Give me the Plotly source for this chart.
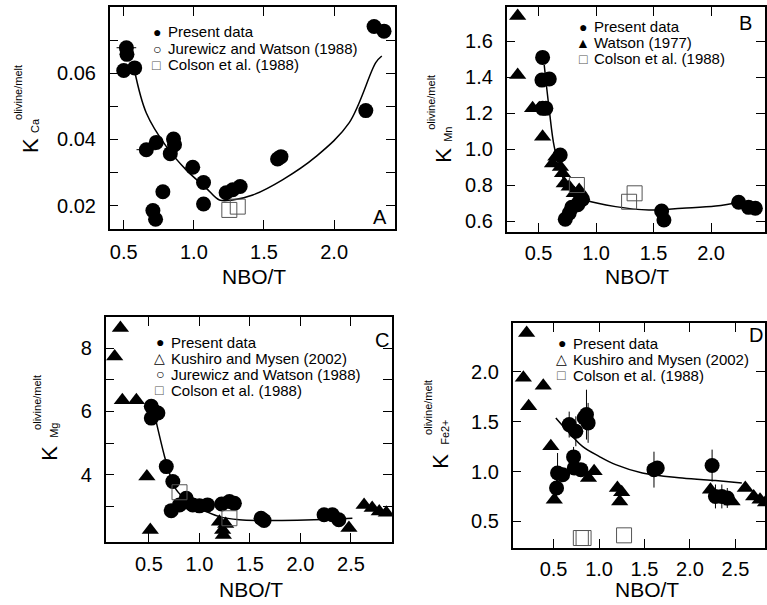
import plotly.graph_objects as go

W, H = 767, 605
FONT = "Liberation Sans, Arial, Helvetica, sans-serif"

# ---------------- Panel A : K_Ca ----------------
a_present_x = [0.519, 0.523, 0.50, 0.578, 0.661, 0.732, 0.779, 0.708, 0.727, 0.832, 0.855, 0.862,
               0.992, 1.069, 1.069, 1.23, 1.277, 1.33, 1.597, 1.621, 2.226, 2.285, 2.356]
a_present_y = [0.0677, 0.0657, 0.0608, 0.0616, 0.0369, 0.0391, 0.0242, 0.0185, 0.0159, 0.0357, 0.0401, 0.0384,
               0.0316, 0.0270, 0.0205, 0.0239, 0.0248, 0.0258, 0.0341, 0.0348, 0.0487, 0.0741, 0.0727]
a_present_ex = [0.07, 0, 0, 0, 0.07, 0, 0, 0, 0, 0, 0, 0,
                0, 0, 0, 0, 0, 0, 0, 0, 0, 0, 0]
a_present_ey = [0.002, 0, 0, 0, 0, 0, 0, 0, 0, 0, 0.002, 0,
                0, 0, 0, 0, 0, 0, 0, 0, 0, 0.002, 0]
a_colson_x = [1.253, 1.313]
a_colson_y = [0.0187, 0.0197]
a_fit_x = [0.578, 0.661, 0.803, 0.945, 1.088, 1.182, 1.277, 1.42, 1.632, 1.87, 2.107, 2.297, 2.34]
a_fit_y = [0.0606, 0.0480, 0.0379, 0.0308, 0.0253, 0.0217, 0.0217, 0.0232, 0.0278, 0.0348, 0.0450, 0.0632, 0.0652]

# ---------------- Panel B : K_Mn ----------------
b_present_x = [0.535, 0.529, 0.593, 0.535, 0.563, 0.688, 0.732, 0.766, 0.789, 0.853, 0.882, 0.84,
               1.57, 1.59, 2.24, 2.326, 2.385]
b_present_y = [1.509, 1.383, 1.389, 1.226, 1.226, 0.967, 0.610, 0.643, 0.676, 0.707, 0.721, 0.690,
               0.656, 0.606, 0.704, 0.676, 0.671]
b_watson_x = [0.318, 0.318, 0.448, 0.506, 0.535, 0.621, 0.65, 0.69, 0.708, 0.723, 0.766, 0.81, 0.853]
b_watson_y = [1.739, 1.411, 1.226, 1.226, 1.068, 0.920, 0.957, 0.900, 0.865, 0.809, 0.790, 0.754, 0.772]
b_colson_x = [0.833, 1.287, 1.335]
b_colson_y = [0.800, 0.707, 0.754]
b_fit_x = [0.549, 0.593, 0.636, 0.708, 0.795, 0.91, 1.17, 1.46, 1.749, 2.04, 2.27]
b_fit_y = [1.467, 1.217, 1.013, 0.846, 0.754, 0.717, 0.680, 0.661, 0.671, 0.683, 0.707]

# ---------------- Panel C : K_Mg ----------------
c_present_x = [0.524, 0.556, 0.524, 0.589, 0.672, 0.737, 0.721, 0.803, 0.869, 0.88, 0.934, 1.0,
               1.08, 1.22, 1.297, 1.346, 1.61, 1.64, 2.234, 2.316, 2.38]
c_present_y = [6.16, 6.00, 5.79, 5.95, 4.26, 3.79, 2.87, 3.05, 3.26, 3.15, 3.05, 3.02,
               3.05, 3.08, 3.16, 3.10, 2.63, 2.56, 2.74, 2.74, 2.58]
c_kushiro_x = [0.218, 0.161, 0.237, 0.376, 0.48, 0.514, 1.198, 1.23, 1.237, 1.26, 2.48, 2.63, 2.71, 2.78, 2.85]
c_kushiro_y = [8.63, 7.73, 6.35, 6.35, 3.95, 2.26, 2.52, 2.26, 2.10, 2.45, 2.32, 3.05, 2.95, 2.84, 2.80]
c_colson_x = [0.803, 1.297]
c_colson_y = [3.45, 2.63]
c_fit_x = [0.556, 0.655, 0.704, 0.77, 0.869, 1.0, 1.198, 1.395, 1.659, 2.316, 2.514]
c_fit_y = [5.90, 4.58, 4.05, 3.53, 3.21, 2.95, 2.68, 2.58, 2.56, 2.60, 2.63]

# ---------------- Panel D : K_Fe2+ ----------------
d_present_x = [0.672, 0.745, 0.72, 0.728, 0.80, 0.544, 0.60, 0.533, 0.862, 0.837, 0.88,
               1.604, 1.64, 2.243, 2.28, 2.35, 2.41]
d_present_y = [1.471, 1.404, 1.147, 1.036, 1.019, 0.986, 0.969, 0.835, 1.571, 1.538, 1.488,
               1.019, 1.036, 1.060, 0.750, 0.750, 0.735]
d_present_ey = [0.13, 0.15, 0.10, 0, 0, 0.20, 0, 0.10, 0.25, 0, 0.20,
                0.18, 0, 0.16, 0.12, 0.12, 0.10]
d_kushiro_x = [0.204, 0.168, 0.226, 0.387, 0.47, 0.508, 0.884, 0.946, 1.202, 1.249, 1.227,
               2.225, 2.463, 2.608, 2.70, 2.77, 2.83]
d_kushiro_y = [2.39, 1.94, 1.655, 1.86, 1.253, 0.718, 0.936, 1.002, 0.835, 0.791, 0.700,
               0.818, 0.700, 0.835, 0.750, 0.718, 0.690]
d_colson_x = [0.80, 0.83, 1.275]
d_colson_y = [0.333, 0.333, 0.360]
d_fit_x = [0.525, 0.672, 0.818, 1.0, 1.183, 1.476, 1.914, 2.28, 2.57]
d_fit_y = [1.538, 1.388, 1.253, 1.153, 1.069, 0.986, 0.936, 0.909, 0.886]

# ---------------- Text ----------------
x_title = "NBO/T"
panel_letters = ["A", "B", "C", "D"]
sub_labels = ["Ca", "Mn", "Mg", "Fe2+"]
sup_label = "olivine/melt"
legend_A = [("●", "Present data", "black"), ("○", "Jurewicz and Watson (1988)", "black"),
            ("□", "Colson et al. (1988)", "#555555")]
legend_B = [("●", "Present data", "black"), ("▲", "Watson (1977)", "black"),
            ("□", "Colson et al. (1988)", "#555555")]
legend_C = [("●", "Present data", "black"), ("△", "Kushiro and Mysen (2002)", "black"),
            ("○", "Jurewicz and Watson (1988)", "black"), ("□", "Colson et al. (1988)", "#555555")]
legend_D = [("●", "Present data", "black"), ("△", "Kushiro and Mysen (2002)", "black"),
            ("□", "Colson et al. (1988)", "#555555")]

# ---------------- Layout geometry (pixels) ----------------
def fx(p):
    return p / W

def fy(p):
    return 1 - p / H

panels = {
    "A": dict(px=(110, 396), py=(7, 229), xr=[0.40, 2.434], yr=[0.01294, 0.0800],
              yt=[0.02, 0.04, 0.06], ytt=["0.02", "0.04", "0.06"], ym=[0.03, 0.05, 0.07],
              xt=[0.5, 1.0, 1.5, 2.0], xtt=["0.5", "1.0", "1.5", "2.0"], so=4),
    "B": dict(px=(508, 767), py=(7, 232), xr=[0.2225, 2.469], yr=[0.539, 1.789],
              yt=[0.6, 0.8, 1.0, 1.2, 1.4, 1.6], ytt=["0.6", "0.8", "1.0", "1.2", "1.4", "1.6"], ym=[],
              xt=[0.5, 1.0, 1.5, 2.0], xtt=["0.5", "1.0", "1.5", "2.0"], so=2),
    "C": dict(px=(106, 393), py=(317, 542), xr=[0.0726, 2.906], yr=[1.88, 8.98],
              yt=[4, 6, 8], ytt=["4", "6", "8"], ym=[3, 5, 7],
              xt=[0.5, 1.0, 1.5, 2.0, 2.5], xtt=["0.5", "1.0", "1.5", "2.0", "2.5"], so=3),
    "D": dict(px=(514, 767), py=(323, 548), xr=[0.0504, 2.8246], yr=[0.233, 2.49],
              yt=[0.5, 1.0, 1.5, 2.0], ytt=["0.5", "1.0", "1.5", "2.0"], ym=[],
              xt=[0.5, 1.0, 1.5, 2.0, 2.5], xtt=["0.5", "1.0", "1.5", "2.0", "2.5"], so=2),
}
axis_ids = {"A": ("x", "y", "xaxis", "yaxis"), "B": ("x2", "y2", "xaxis2", "yaxis2"),
            "C": ("x3", "y3", "xaxis3", "yaxis3"), "D": ("x4", "y4", "xaxis4", "yaxis4")}

fig = go.Figure()

line_style = dict(color="black", width=1.5)
circ = dict(symbol="circle", size=15, color="black", line=dict(width=0))
tri = dict(symbol="triangle-up", size=15, color="black", line=dict(width=0))
sq = dict(symbol="square-open", size=15, color="#555555", line=dict(width=1, color="#555555"))


def add_fit(name, xs, ys):
    xa, ya = axis_ids[name][:2]
    fig.add_trace(go.Scatter(x=xs, y=ys, mode="lines", line=dict(shape="spline", smoothing=1.0, **line_style),
                             xaxis=xa, yaxis=ya, hoverinfo="skip"))


def add_pts(name, xs, ys, marker, ex=None, ey=None):
    xa, ya = axis_ids[name][:2]
    kw = {}
    if ex is not None:
        kw["error_x"] = dict(type="data", array=ex, color="black", thickness=1, width=0)
    if ey is not None:
        kw["error_y"] = dict(type="data", array=ey, color="black", thickness=1, width=0)
    fig.add_trace(go.Scatter(x=xs, y=ys, mode="markers", marker=marker, xaxis=xa, yaxis=ya, **kw))


add_fit("A", a_fit_x, a_fit_y)
add_pts("A", a_present_x, a_present_y, circ, ex=a_present_ex, ey=a_present_ey)
add_pts("A", a_colson_x, a_colson_y, sq)

add_fit("B", b_fit_x, b_fit_y)
add_pts("B", b_watson_x, b_watson_y, tri)
add_pts("B", b_present_x, b_present_y, circ)
add_pts("B", b_colson_x, b_colson_y, sq)

add_fit("C", c_fit_x, c_fit_y)
add_pts("C", c_kushiro_x, c_kushiro_y, tri)
add_pts("C", c_present_x, c_present_y, circ)
add_pts("C", c_colson_x, c_colson_y, sq)

add_fit("D", d_fit_x, d_fit_y)
add_pts("D", d_kushiro_x, d_kushiro_y, tri)
add_pts("D", d_present_x, d_present_y, circ, ey=d_present_ey)
add_pts("D", d_colson_x, d_colson_y, sq)

layout = dict(width=W, height=H, margin=dict(l=0, r=0, t=0, b=0),
              plot_bgcolor="white", paper_bgcolor="white", showlegend=False,
              font=dict(family=FONT, color="black"))

common = dict(showline=True, linecolor="black", linewidth=1.5, mirror="ticks", ticks="inside",
              ticklen=9, tickwidth=1.3, tickcolor="black", showgrid=False, zeroline=False,
              tickfont=dict(family=FONT, size=20, color="black"), tickmode="array")

for name, p in panels.items():
    xa, ya, xk, yk = axis_ids[name]
    x0, x1 = p["px"]
    yt, yb = p["py"]
    layout[xk] = dict(common, domain=[fx(x0), min(1.0, fx(x1))], range=p["xr"], anchor=ya,
                      tickvals=p["xt"], ticktext=p["xtt"], ticklabelstandoff=p["so"])
    ydict = dict(common, domain=[fy(yb), fy(yt)], range=p["yr"], anchor=xa,
                 tickvals=p["yt"], ticktext=p["ytt"], ticklabelstandoff=8)
    if p["ym"]:
        ydict["minor"] = dict(tickmode="array", tickvals=p["ym"], ticks="inside", ticklen=9,
                              tickwidth=1.3, tickcolor="black", showgrid=False)
    layout[yk] = ydict

annotations = []


def ann(text, x, y, size, angle=0, xanchor="center", yanchor="middle", color="black"):
    annotations.append(dict(text=text, x=fx(x), y=fy(y), xref="paper", yref="paper", showarrow=False,
                            font=dict(family=FONT, size=size, color=color), textangle=angle,
                            xanchor=xanchor, yanchor=yanchor))


# x-axis titles
xtitle_pos = {"A": (255, 276), "B": (639, 276), "C": (252, 589), "D": (649, 589)}
for name in ["A", "B", "C", "D"]:
    tx, ty = xtitle_pos[name]
    ann(x_title, tx, ty, 21)

# y-axis titles: "K", subscript and superscript as separate rotated texts
ytitle_pos = {  # K centre, sub centre, sup centre
    "A": ((30, 145), (35, 125), (18, 92)),
    "B": ((444, 155), (449, 134), (432, 102)),
    "C": ((49, 453), (54, 430), (37, 402)),
    "D": ((441, 461), (446, 432), (429, 407)),
}
for (name, (kp, sp, up)), sub in zip(ytitle_pos.items(), sub_labels):
    ann("K", kp[0], kp[1], 22, angle=-90)
    ann(sub, sp[0], sp[1], 11, angle=-90)
    ann(sup_label, up[0], up[1], 11, angle=-90)

# panel letters
letter_pos = {"A": (381, 217), "B": (747, 23), "C": (383, 340), "D": (758, 335)}
for letter in panel_letters:
    lx, ly = letter_pos[letter]
    ann(letter, lx, ly, 20)

# legends (symbol glyph + text)
legend_pos = {"A": (157, 166, [32, 48.5, 65]), "B": (585, 594, [27, 43, 59]),
              "C": (160, 169, [342, 358, 374, 390]), "D": (563, 572, [343, 359, 375])}
for name, items in zip(["A", "B", "C", "D"], [legend_A, legend_B, legend_C, legend_D]):
    sx, tx, ys = legend_pos[name]
    for (sym, txt, col), yy in zip(items, ys):
        ann(sym, sx, yy, 14, color=col)
        ann(txt, tx, yy, 15, xanchor="left")

layout["annotations"] = annotations
fig.update_layout(**layout)
fig.write_html("out.html")
